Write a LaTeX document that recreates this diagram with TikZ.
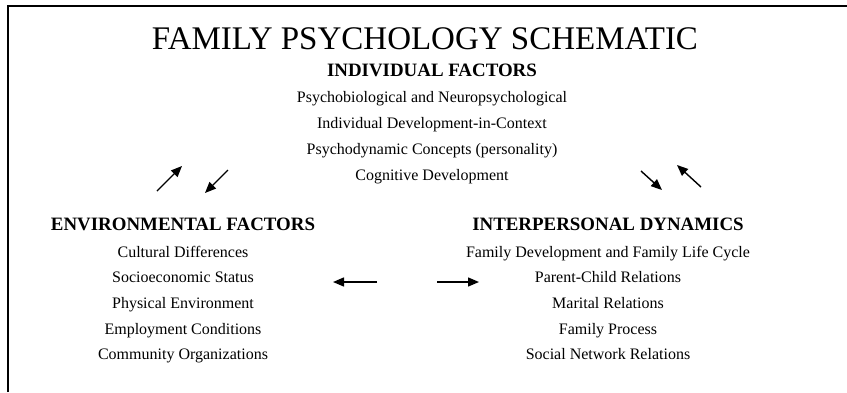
\documentclass[tikz,border=0pt]{standalone}
\usepackage{fontspec}
\setmainfont{Liberation Serif}
\usetikzlibrary{arrows.meta}

\begin{document}
\begin{tikzpicture}[x=1pt,y=-1pt,thick,
        title node/.style={anchor=base,font=\fontsize{33}{36}\selectfont},
        head node/.style={anchor=base,font=\fontsize{18.9}{22}\selectfont\bfseries},
        item node/.style={anchor=base,font=\fontsize{16}{19}\selectfont},
        link/.style={line width=1.4pt,-{Triangle[length=11pt,width=9pt]}}]
        \useasboundingbox (0,0) rectangle (847,392);
        \draw[line width=2pt] (8,392) -- (8,6) -- (847,6);

        \node[title node] at (425, 49) (title) {FAMILY PSYCHOLOGY SCHEMATIC};

        % individual factors
        \node[head node] at (432, 76) (ind) {INDIVIDUAL FACTORS};
        \foreach \t [count=\i] in {{Psychobiological and Neuropsychological},
                {Individual Development-in-Context},
                {Psychodynamic Concepts (personality)},
                {Cognitive Development}}
            \node[item node] at (432, 77+25.8*\i) (ind\i) {\t};

        % environmental factors
        \node[head node] at (183, 230) (env) {ENVIRONMENTAL FACTORS};
        \foreach \t [count=\i] in {{Cultural Differences},{Socioeconomic Status},
                {Physical Environment},{Employment Conditions},
                {Community Organizations}}
            \node[item node] at (183, 231.3+25.7*\i) (env\i) {\t};

        % interpersonal dynamics
        \node[head node] at (608, 230) (inter) {INTERPERSONAL DYNAMICS};
        \foreach \t [count=\i] in {{Family Development and Family Life Cycle},
                {Parent-Child Relations},{Marital Relations},
                {Family Process},{Social Network Relations}}
            \node[item node] at (608, 231.3+25.7*\i) (inter\i) {\t};

        \coordinate (envup) at (157,191);
        \coordinate (indin) at (182,166);
        \coordinate (indout) at (228,170);
        \coordinate (envin) at (205,193);
        \coordinate (inddown) at (641,171);
        \coordinate (interin) at (662,190);
        \coordinate (interup) at (701,187);
        \coordinate (indback) at (677,165);
        \coordinate (midleft) at (377,282);
        \coordinate (envside) at (333,282);
        \coordinate (midright) at (437,282);
        \coordinate (interside) at (479,282);

        \draw[link] (envup) -- (indin);
        \draw[link] (indout) -- (envin);
        \draw[link] (inddown) -- (interin);
        \draw[link] (interup) -- (indback);
        \draw[link] (midleft) -- (envside);
        \draw[link] (midright) -- (interside);
\end{tikzpicture}
\end{document}
